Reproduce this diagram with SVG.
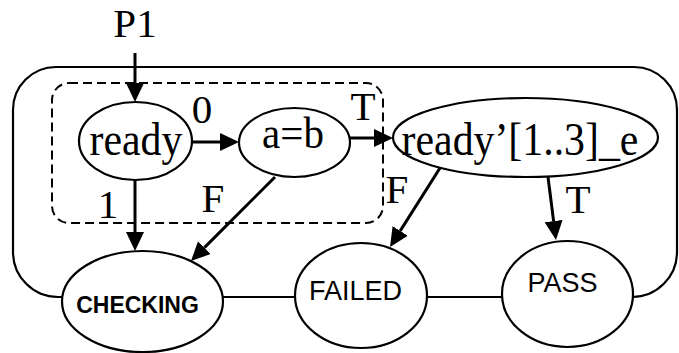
<svg xmlns="http://www.w3.org/2000/svg" width="679" height="353" viewBox="0 0 679 353">
  <style>
    .bg { fill: #ffffff; }
    .node { fill: #ffffff; stroke: #000000; stroke-width: 2.2; }
    .frame { fill: none; stroke: #000000; stroke-width: 2.2; }
    .dash { fill: none; stroke: #000000; stroke-width: 2; stroke-dasharray: 9 5; }
    .edge { fill: none; stroke: #000000; stroke-width: 3; marker-end: url(#head); }
    .link { fill: none; stroke: #000000; stroke-width: 2.2; }
    .serif { font-family: "Liberation Serif", "Times New Roman", serif; font-size: 41px; fill: #000000; }
    .sans { font-family: "Liberation Sans", Arial, sans-serif; font-size: 27px; fill: #000000; }
    .bold { font-family: "Liberation Sans", Arial, sans-serif; font-size: 23px; font-weight: bold; fill: #000000; }
  </style>
  <defs>
    <marker id="head" markerUnits="userSpaceOnUse" markerWidth="20" markerHeight="19" refX="0" refY="9" orient="auto">
      <path d="M0,0 L19,9 L0,18 Z" fill="#000000"/>
    </marker>
  </defs>

  <rect class="bg" x="0" y="0" width="679" height="353"/>

  <!-- outer boundary, open at the bottom where the final states sit -->
  <path id="outer-frame" class="frame" d="M62,297 H58 A45,45 0 0 1 13,252 V110 A43,43 0 0 1 56,67 H634 A43,43 0 0 1 677,110 V252 A45,45 0 0 1 632,297"/>

  <!-- dashed sub-region around ready and a=b -->
  <rect id="sub-region" class="dash" x="52" y="83" width="331" height="140" rx="17" ry="17"/>

  <g id="connectors">
    <!-- plain links along the bottom edge -->
    <line class="link" x1="223" y1="297" x2="295" y2="297"/>
    <line class="link" x1="427" y1="297" x2="502" y2="297"/>

    <!-- directed transitions (paths end at arrowhead base) -->
    <path class="edge" d="M135,53 L135,83"/>
    <path class="edge" d="M192,142 L220,142"/>
    <path class="edge" d="M350,138 L374,138"/>
    <path class="edge" d="M135,180 L135,232"/>
    <path class="edge" d="M275,177 L204.4,247.6"/>
    <path class="edge" d="M440,168 L400.2,230.9"/>
    <path class="edge" d="M548,177 L553.6,221.1"/>

    <!-- transition labels -->
    <text class="serif" x="135" y="37" text-anchor="middle">P1</text>
    <text class="serif" x="202" y="123" text-anchor="middle">0</text>
    <text class="serif" x="363" y="120" text-anchor="middle">T</text>
    <text class="serif" x="108" y="218" text-anchor="middle">1</text>
    <text class="serif" x="213" y="212" text-anchor="middle">F</text>
    <text class="serif" x="397" y="203" text-anchor="middle">F</text>
    <text class="serif" x="578" y="213" text-anchor="middle">T</text>
  </g>

  <!-- state labels are set slightly taller than wide -->
  <g id="ready">
    <ellipse class="node" cx="135.5" cy="141" rx="56.5" ry="39"/>
    <text class="serif" transform="translate(136,155) scale(1.02,1.13)" text-anchor="middle">ready</text>
  </g>

  <g id="a-eq-b">
    <ellipse class="node" cx="294.5" cy="142.5" rx="55.5" ry="34.5"/>
    <text class="serif" transform="translate(293,148) scale(1,1.1)" text-anchor="middle">a=b</text>
  </g>

  <g id="ready-prime">
    <ellipse class="node" cx="525.5" cy="137.5" rx="132.5" ry="39.5"/>
    <text class="serif" transform="translate(520,155) scale(1.02,1.13)" text-anchor="middle">ready’[1..3]_e</text>
  </g>

  <g id="checking">
    <ellipse class="node" cx="142.5" cy="301.5" rx="80.5" ry="50.5"/>
    <text class="bold" x="137.5" y="313" text-anchor="middle">CHECKING</text>
  </g>

  <g id="failed">
    <ellipse class="node" cx="361" cy="295.5" rx="66" ry="52.5"/>
    <text class="sans" x="355.5" y="300" text-anchor="middle">FAILED</text>
  </g>

  <g id="pass">
    <ellipse class="node" cx="567.5" cy="294" rx="65.5" ry="53"/>
    <text class="sans" x="562.5" y="292" text-anchor="middle">PASS</text>
  </g>
</svg>
